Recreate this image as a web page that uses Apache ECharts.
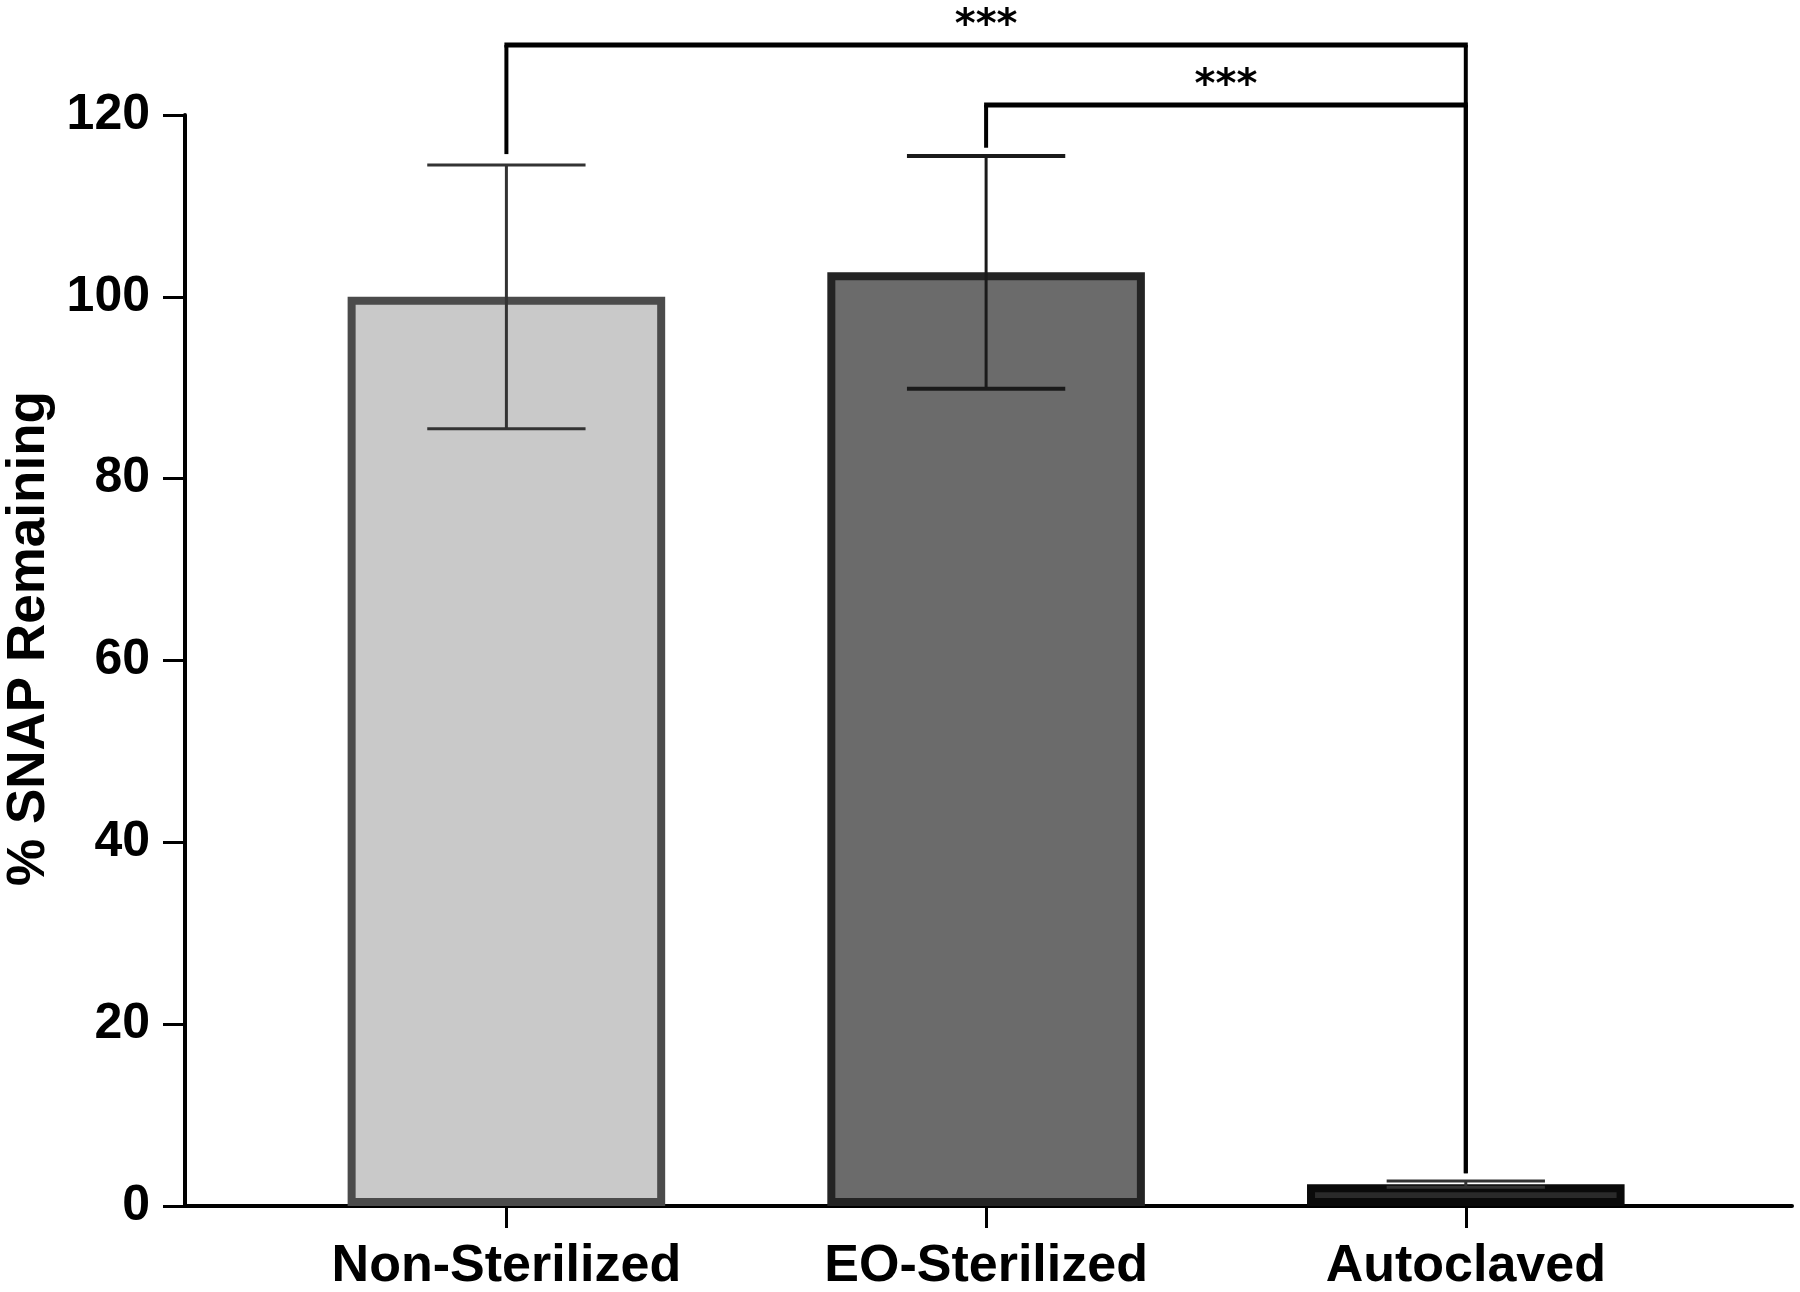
<!DOCTYPE html>
<html>
<head>
<meta charset="utf-8">
<script src="https://cdn.jsdelivr.net/npm/echarts@6/dist/echarts.min.js"></script>
<style>
html,body{margin:0;padding:0;background:#fff;}
#chart{width:1800px;height:1292px;}
</style>
</head>
<body>
<div id="chart"></div>
<script>
// ---- data ----
const categories = ['Non-Sterilized', 'EO-Sterilized', 'Autoclaved'];
const means = [100, 102.7, 2.4];
const errors = [14.5, 12.8, 0.35];
const yTickValues = [0, 20, 40, 60, 80, 100, 120];
// significance brackets
const bracketFrom = [0, 1];
const bracketTo = [2, 2];
const bracketLevel = [127.7, 121.1];
const bracketLeftEnd = [115.7, 116.4];
const bracketRightEnd = [3.6, 3.6];
const bracketLabels = ['***', '***'];

// ---- styles ----
const barFill = ['#c9c9c9', '#6b6b6b', '#2a2a2a'];
const barStroke = ['#4b4b4b', '#242424', '#0a0a0a'];
const errColor = ['#333333', '#1a1a1a', '#333333'];
const BAR_W = 0.662;
const CAP_W = 0.33;
const BAR_LW = 8;

const chart = echarts.init(document.getElementById('chart'), null, {renderer: 'canvas'});

const barData = categories.map((c, i) => [i, means[i]]);
const errData = categories.map((c, i) => [i, means[i], errors[i]]);
const bracketData = bracketFrom.map((f, i) => [f, bracketTo[i], bracketLevel[i], bracketLeftEnd[i], bracketRightEnd[i]]);

const option = {
  backgroundColor: '#ffffff',
  animation: false,
  grid: {left: 185, right: 8, top: 115, bottom: 86, containLabel: false, outerBoundsMode: 'none'},
  xAxis: {
    type: 'value',
    min: -0.67,
    max: 2.68,
    splitLine: {show: false},
    axisLine: {show: true, onZero: false, lineStyle: {color: '#000', width: 4}},
    axisTick: {show: true, inside: false, length: 22, lineStyle: {color: '#000', width: 3}, customValues: [0, 1, 2]},
    axisLabel: {
      customValues: [0, 1, 2],
      formatter: v => categories[Math.round(v)] || '',
      fontFamily: 'Liberation Sans', fontWeight: 'bold', fontSize: 52, color: '#000', margin: 35
    }
  },
  yAxis: {
    type: 'value',
    min: 0,
    max: 120,
    interval: 20,
    splitLine: {show: false},
    axisLine: {show: true, onZero: false, lineStyle: {color: '#000', width: 4}},
    axisTick: {show: true, inside: false, length: 22, lineStyle: {color: '#000', width: 3}},
    axisLabel: {
      fontFamily: 'Liberation Sans', fontWeight: 'bold', fontSize: 50, color: '#000', margin: 35,
      formatter: v => (yTickValues.indexOf(v) >= 0 ? String(v) : '')
    },
    name: '% SNAP Remaining',
    nameLocation: 'middle',
    nameRotate: 90,
    nameGap: 128,
    nameTextStyle: {fontFamily: 'Liberation Sans', fontWeight: 'bold', fontSize: 53, color: '#000', padding: [0, 0, 0, 44]}
  },
  series: [
    {
      type: 'custom',
      name: 'bars',
      clip: false,
      z: 3,
      data: barData,
      renderItem: function (params, api) {
        const i = api.value(0), v = api.value(1);
        const base = api.coord([i, 0]);
        const top = api.coord([i, v]);
        const w = api.size([BAR_W, 0])[0];
        const lw = BAR_LW;
        return {
          type: 'rect',
          shape: {x: base[0] - w / 2 + lw / 2, y: top[1] + lw / 2, width: w - lw, height: base[1] - top[1] - lw},
          style: {fill: barFill[params.dataIndex], stroke: barStroke[params.dataIndex], lineWidth: lw}
        };
      }
    },
    {
      type: 'custom',
      name: 'errors',
      clip: false,
      z: 4,
      data: errData,
      renderItem: function (params, api) {
        const i = api.value(0), m = api.value(1), e = api.value(2);
        const hi = api.coord([i, m + e]);
        const lo = api.coord([i, m - e]);
        const cw = api.size([CAP_W, 0])[0];
        const col = errColor[params.dataIndex];
        const capLw = params.dataIndex === 1 ? 4 : 3;
        return {
          type: 'group',
          children: [
            {type: 'line', shape: {x1: hi[0], y1: hi[1], x2: lo[0], y2: lo[1]}, style: {stroke: col, lineWidth: 3}},
            {type: 'line', shape: {x1: hi[0] - cw / 2, y1: hi[1], x2: hi[0] + cw / 2, y2: hi[1]}, style: {stroke: col, lineWidth: capLw}},
            {type: 'line', shape: {x1: lo[0] - cw / 2, y1: lo[1], x2: lo[0] + cw / 2, y2: lo[1]}, style: {stroke: col, lineWidth: capLw}}
          ]
        };
      }
    },
    {
      type: 'custom',
      name: 'brackets',
      clip: false,
      z: 5,
      data: bracketData,
      renderItem: function (params, api) {
        const x1 = api.value(0), x2 = api.value(1), lvl = api.value(2), e1 = api.value(3), e2 = api.value(4);
        const pA = api.coord([x1, e1]);
        const pB = api.coord([x1, lvl]);
        const pC = api.coord([x2, lvl]);
        const pD = api.coord([x2, e2]);
        return {
          type: 'group',
          children: [
            {type: 'line', shape: {x1: pA[0], y1: pA[1], x2: pB[0], y2: pB[1]}, style: {stroke: '#000', lineWidth: 4}},
            {type: 'line', shape: {x1: pB[0] - 2, y1: pB[1], x2: pC[0] + 2, y2: pC[1]}, style: {stroke: '#000', lineWidth: 5}},
            {type: 'line', shape: {x1: pC[0], y1: pC[1], x2: pD[0], y2: pD[1]}, style: {stroke: '#000', lineWidth: 4}},
            {
              type: 'text',
              style: {
                text: bracketLabels[params.dataIndex],
                x: (pB[0] + pC[0]) / 2,
                y: pB[1] - 18,
                align: 'center',
                verticalAlign: 'middle',
                fill: '#000',
                font: 'bold 40px "DejaVu Sans"'
              }
            }
          ]
        };
      }
    }
  ]
};

chart.setOption(option);
</script>
</body>
</html>
